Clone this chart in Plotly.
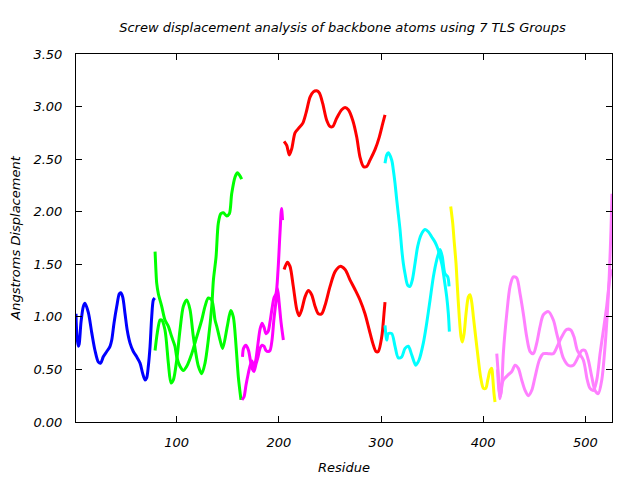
import plotly.graph_objects as go

# ---- data (residue, screw displacement in Angstroms) ----
blue_x = [1.4, 1.6, 2.5, 3.7, 4.5, 6.3, 8.6, 10.2, 13.5, 16.8, 20.0, 23.3, 25.6, 28.1, 31.5, 34.7, 36.4, 38.6,
          41.3, 43.8, 45.2, 47.1, 49.4, 51.6, 54.3, 57.5, 60.8, 64.1, 66.7, 69.0, 70.6, 72.2, 73.9, 75.5, 77.1, 78.5]
blue_y = [1.03, 0.95, 0.80, 0.72, 0.74, 0.95, 1.10, 1.13, 1.04, 0.85, 0.68, 0.57, 0.56, 0.62, 0.67, 0.72, 0.78, 0.94,
          1.10, 1.22, 1.23, 1.19, 1.03, 0.87, 0.75, 0.67, 0.62, 0.56, 0.46, 0.40, 0.42, 0.53, 0.72, 1.00, 1.16, 1.18]

green_a_x = [78.8, 79.6, 80.4, 82.0, 85.3, 88.5, 91.8, 95.1, 98.3, 100.0, 103.2, 106.5, 109.8, 114.7, 119.6, 124.5,
             127.7, 130.9, 134.3, 137.5, 139.2, 142.4, 145.0, 149.5, 152.9, 155.4, 158.1, 160.3, 162.9]
green_a_y = [1.62, 1.45, 1.32, 1.22, 1.10, 0.97, 0.91, 0.81, 0.72, 0.62, 0.53, 0.49, 0.53, 0.65, 0.81, 0.97,
             1.10, 1.18, 1.16, 0.97, 0.91, 0.78, 0.70, 0.91, 1.06, 1.00, 0.72, 0.43, 0.21]
green_b_x = [78.8, 81.0, 83.7, 85.3, 88.5, 91.8, 94.4, 96.7, 100.0, 103.2, 106.5, 109.8, 113.0, 116.3, 121.2, 124.5,
             127.7, 130.9, 134.3, 135.9, 138.5, 140.7, 143.1, 145.6, 148.9, 151.5, 153.8, 157.1, 159.3, 161.3, 163.6]
green_b_y = [0.68, 0.85, 0.97, 0.97, 0.875, 0.56, 0.37, 0.40, 0.59, 0.875, 1.10, 1.16, 1.07, 0.81, 0.53, 0.46,
             0.56, 0.78, 1.10, 1.35, 1.57, 1.89, 1.98, 1.99, 1.96, 1.98, 2.17, 2.33, 2.37, 2.35, 2.31]

magenta_a_x = [163.9, 165.9, 167.8, 169.8, 171.7, 173.7, 175.6, 177.6, 179.6, 181.5, 183.5, 185.5, 187.4, 189.4,
               191.3, 193.3, 195.2, 197.2, 199.2, 201.1, 202.6, 203.6]
magenta_a_y = [0.21, 0.24, 0.35, 0.45, 0.53, 0.58, 0.52, 0.60, 0.75, 0.88, 0.94, 0.90, 0.84, 0.86,
               0.95, 1.08, 1.18, 1.22, 1.45, 1.80, 2.03, 1.92]
magenta_b_x = [164.4, 165.4, 167.8, 170.3, 172.2, 174.2, 175.6, 177.6, 179.6, 181.5, 183.5, 185.5, 187.4, 189.4,
               191.3, 193.3, 195.2, 197.2, 198.7, 200.1, 202.1, 204.4]
magenta_b_y = [0.62, 0.70, 0.73, 0.68, 0.58, 0.50, 0.48, 0.55, 0.62, 0.70, 0.73, 0.72, 0.68, 0.67,
               0.68, 0.78, 0.98, 1.15, 1.27, 1.15, 0.95, 0.78]

red_a_x = [205.1, 207.7, 210.2, 212.6, 215.8, 219.0, 223.3, 226.6, 230.5, 233.7, 237.0, 239.6, 242.9, 246.8, 250.1,
           252.7, 256.6, 261.5, 264.8, 268.0, 272.3, 276.2, 279.4, 282.7, 286.0, 289.2, 294.1, 298.3, 301.7, 303.9]
red_a_y = [2.67, 2.63, 2.54, 2.60, 2.75, 2.79, 2.84, 2.94, 3.09, 3.14, 3.15, 3.13, 3.03, 2.87, 2.81,
           2.81, 2.89, 2.97, 2.99, 2.97, 2.87, 2.71, 2.52, 2.43, 2.43, 2.49, 2.59, 2.71, 2.84, 2.92]
red_b_x = [205.1, 208.3, 210.9, 214.1, 217.5, 219.7, 222.4, 225.6, 228.8, 232.1, 235.4, 238.6, 241.9, 245.2, 250.1,
           255.0, 259.9, 264.8, 269.7, 274.5, 279.4, 284.3, 288.5, 291.9, 295.1, 297.3, 300.7, 302.9, 303.9]
red_b_y = [1.45, 1.52, 1.48, 1.29, 1.07, 1.01, 1.07, 1.19, 1.25, 1.21, 1.10, 1.03, 1.03, 1.11, 1.29,
           1.43, 1.48, 1.45, 1.35, 1.26, 1.16, 1.03, 0.875, 0.75, 0.67, 0.67, 0.81, 1.03, 1.14]

cyan_a_x = [303.9, 305.6, 307.1, 310.5, 312.0, 313.7, 315.4, 316.9, 318.6, 320.3, 321.8, 323.5, 326.1, 328.4, 330.6,
            333.3, 335.9, 339.2, 343.1, 346.3, 349.6, 352.9, 355.5, 357.8, 360.0, 362.0, 364.3, 365.9, 366.9]
cyan_a_y = [2.46, 2.54, 2.56, 2.49, 2.40, 2.27, 2.11, 1.98, 1.83, 1.64, 1.51, 1.41, 1.30, 1.29, 1.35,
            1.51, 1.67, 1.78, 1.83, 1.81, 1.76, 1.71, 1.65, 1.57, 1.48, 1.35, 1.19, 1.03, 0.86]
cyan_b_x = [303.9, 305.6, 307.1, 310.5, 313.7, 316.9, 320.3, 323.5, 326.7, 330.0, 334.0, 337.2, 341.4, 344.7, 348.0,
            351.2, 354.5, 357.8, 360.0, 362.6, 365.3, 366.6]
cyan_b_y = [0.92, 0.78, 0.84, 0.84, 0.72, 0.61, 0.62, 0.70, 0.72, 0.64, 0.54, 0.59, 0.75, 0.94, 1.16,
            1.38, 1.54, 1.64, 1.57, 1.41, 1.38, 1.29]

yellow_x = [368.2, 370.2, 371.5, 373.4, 374.7, 376.6, 378.3, 379.6, 381.3, 383.2, 385.5, 387.1, 388.8, 390.4, 393.0,
            395.3, 397.6, 400.2, 402.5, 404.5, 406.7, 408.4, 409.3, 410.6, 411.6]
yellow_y = [2.05, 1.89, 1.73, 1.51, 1.29, 1.00, 0.81, 0.76, 0.84, 1.03, 1.19, 1.21, 1.14, 1.00, 0.78,
            0.59, 0.42, 0.32, 0.32, 0.40, 0.49, 0.51, 0.43, 0.27, 0.19]

violet_a_x = [413.3, 414.8, 416.5, 418.2, 419.7, 423.1, 426.3, 429.5, 432.8, 436.1, 439.3, 442.6, 445.9, 449.1, 452.4,
              455.7, 458.9, 463.8, 468.7, 472.0, 475.2, 478.4, 483.3, 488.3, 493.1, 496.5, 499.7, 502.9, 506.3,
              509.5, 512.7, 516.1, 519.3, 521.5, 523.5, 525.1, 526.1]
violet_a_y = [0.65, 0.45, 0.22, 0.35, 0.65, 1.03, 1.29, 1.38, 1.37, 1.22, 1.03, 0.81, 0.67, 0.65, 0.75,
              0.91, 1.02, 1.05, 0.97, 0.84, 0.72, 0.61, 0.54, 0.54, 0.62, 0.68, 0.68, 0.59, 0.43,
              0.30, 0.27, 0.40, 0.72, 1.03, 1.41, 1.83, 2.17]
violet_b_x = [414.1, 415.5, 417.0, 418.5, 419.7, 424.6, 428.0, 431.2, 434.4, 437.7, 441.0, 444.2, 447.5, 450.8, 455.0,
              458.9, 463.8, 468.7, 472.6, 476.9, 481.8, 485.7, 488.9, 492.2, 498.0, 501.9, 504.6, 507.9, 511.2,
              514.4, 517.7, 520.9, 524.2, 526.1]
violet_b_y = [0.50, 0.30, 0.25, 0.36, 0.40, 0.45, 0.48, 0.54, 0.51, 0.40, 0.30, 0.25, 0.30, 0.43, 0.59,
              0.65, 0.65, 0.65, 0.72, 0.81, 0.88, 0.875, 0.81, 0.68, 0.59, 0.40, 0.32, 0.30, 0.40,
              0.65, 0.875, 1.10, 1.38, 1.45]

x_ticks = [100, 200, 300, 400, 500]
y_ticks = [0.0, 0.5, 1.0, 1.5, 2.0, 2.5, 3.0, 3.5]

series = [
    (blue_x, blue_y, "#0000ff"),
    (green_a_x, green_a_y, "#00ff00"),
    (green_b_x, green_b_y, "#00ff00"),
    (magenta_a_x, magenta_a_y, "#ff00ff"),
    (magenta_b_x, magenta_b_y, "#ff00ff"),
    (red_a_x, red_a_y, "#ff0000"),
    (red_b_x, red_b_y, "#ff0000"),
    (cyan_a_x, cyan_a_y, "#00ffff"),
    (cyan_b_x, cyan_b_y, "#00ffff"),
    (yellow_x, yellow_y, "#ffff00"),
    (violet_a_x, violet_a_y, "#ff80ff"),
    (violet_b_x, violet_b_y, "#ff80ff"),
]

fig = go.Figure()
for xs, ys, col in series:
    fig.add_trace(go.Scatter(x=xs, y=ys, mode="lines",
                             line=dict(color=col, width=3, shape="spline", smoothing=0.8),
                             showlegend=False, hoverinfo="skip"))

font_it = dict(family="DejaVu Sans", size=13, color="#000000", style="italic")

# the page body adds an 8px offset, so margins are shifted accordingly
fig.update_layout(
    width=640, height=480,
    margin=dict(l=68, r=36, t=46, b=66, autoexpand=False),
    paper_bgcolor="white", plot_bgcolor="white",
    title=dict(text="Screw displacement analysis of backbone atoms using 7 TLS Groups",
               x=0.5227, xanchor="center", y=0.96, yanchor="middle", font=font_it),
    font=font_it,
)
fig.update_xaxes(range=[1.4, 526.1], tickvals=x_ticks, ticktext=[str(v) for v in x_ticks],
                 ticks="inside", ticklen=6, tickcolor="black", showline=True, linecolor="black",
                 linewidth=1, mirror="allticks", showgrid=False, zeroline=False,
                 tickfont=font_it, ticklabelstandoff=8,
                 title=dict(text="Residue", font=font_it, standoff=14))
fig.update_yaxes(range=[0, 3.5], tickvals=y_ticks, ticktext=["%.2f" % v for v in y_ticks],
                 ticks="inside", ticklen=6, tickcolor="black", showline=True, linecolor="black",
                 linewidth=1, mirror="allticks", showgrid=False, zeroline=False,
                 tickfont=font_it, ticklabelstandoff=10,
                 title=dict(text="Angstroms Displacement", font=font_it, standoff=14))

fig.write_html("out.html")
